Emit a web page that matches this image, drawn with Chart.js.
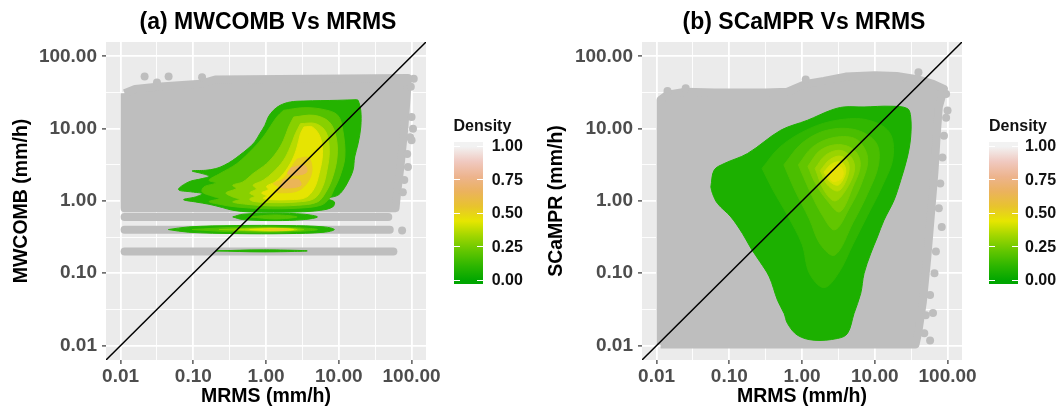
<!DOCTYPE html>
<html lang="en">
<head>
<meta charset="UTF-8" />
<title>MWCOMB / SCaMPR vs MRMS density</title>
<script src="https://cdn.jsdelivr.net/npm/chart.js"></script>
<style>
  body { margin: 0; background: #fff; font-family: 'Liberation Sans', Arial, Helvetica, sans-serif; }
  #page { position: relative; width: 1060px; height: 411px; overflow: hidden; background: #fff; }
  .panel { position: absolute; top: 0; width: 460px; height: 411px; }
  .title { position: absolute; top: 8px; font-size: 23px; line-height: 26px; font-weight: 700; color: #000;
           white-space: nowrap; transform: translateX(-50%); }
  .legend-title, .legend-label { position: absolute; font-weight: 700; font-size: 16px; line-height: 16px; color: #111; white-space: nowrap; }
  .bar { position: absolute; top: 141.5px; width: 29px; height: 142px; }
  .bar-tick { position: absolute; width: 6px; height: 1px; background: #fff; }
</style>
</head>
<body>
<div id="page">
  <div class="panel" style="left:0px"><canvas id="chartA"></canvas></div>
  <div class="panel" style="left:530px"><canvas id="chartB"></canvas></div>
  <div class="title" style="left:268px">(a) MWCOMB Vs MRMS</div>
  <div class="title" style="left:804px">(b) SCaMPR Vs MRMS</div>
</div>

<script>
// ---- shared scale / legend data ----
const axisMin = 0.0063;
const axisMax = 158;
const majorTicks = [0.01, 0.1, 1, 10, 100];
const majorTickLabels = ['0.01', '0.10', '1.00', '10.00', '100.00'];
const minorTicks = [0.0316, 0.316, 3.16, 31.6];
const identityLine = [axisMin, axisMax];

// terrain.colors(10) used for the density fill
const terrainColors = ['#00A600', '#2DB600', '#63C600', '#A0D600', '#E6E600',
                       '#E8C32E', '#EBB25E', '#EDB48E', '#F0C9C0', '#F2F2F2'];
const densityBreaks = [0, 0.25, 0.5, 0.75, 1];
const densityLabels = ['0.00', '0.25', '0.50', '0.75', '1.00'];

// all shapes below are [log10 x, log10 y] in mm/h

// ---- panel (a) MWCOMB vs MRMS ----
const aGreyBlock = [[-1.945, 1.49], [-1.8, 1.55], [-1.5, 1.58], [-1.2, 1.6], [-0.9, 1.62], [-0.7, 1.68],
  [1.95, 1.7], [1.93, 1.4], [1.9, 1.0], [1.85, 0.5], [1.8, 0.1], [1.78, -0.1], [-1.945, -0.1]];
const aBandYLog = [-0.222, -0.398, -0.699];
const aBandStartLog = [-1.945, -1.945, -1.945];
const aBandEndLog = [1.68, 1.7, 1.75];
const aOutliers = [[2.03, 1.69], [1.99, 1.58], [2.0, 1.16], [2.02, 1.0], [1.98, 0.88], [2.0, 0.84],
  [1.94, 0.65], [1.95, 0.47], [1.9, 0.29], [1.88, 0.12], [1.87, -0.41], [-1.67, 1.72], [-1.34, 1.72],
  [-0.88, 1.71], [-1.5, 1.64]];

const aMainL1 = [[1.242, 1.401], [0.986, 1.392], [0.52, 1.382], [0.333, 1.369], [0.194, 1.323], [0.101, 1.253],
  [0.031, 1.161], [-0.016, 1.046], [-0.086, 0.931], [-0.156, 0.816], [-0.249, 0.724], [-0.365, 0.631],
  [-0.458, 0.562], [-0.575, 0.493], [-0.691, 0.447], [-0.831, 0.424], [-1.017, 0.415], [-0.878, 0.378],
  [-0.784, 0.341], [-0.878, 0.309], [-1.064, 0.263], [-1.204, 0.157], [-1.017, 0.124], [-0.878, 0.101],
  [-0.971, 0.055], [-1.134, 0.018], [-0.971, -0.014], [-0.784, -0.046], [-0.598, -0.092], [-0.458, -0.129],
  [-0.225, -0.152], [0.427, -0.152], [0.753, -0.129], [0.916, -0.083], [0.939, -0.014], [0.846, 0.032],
  [0.986, 0.078], [1.055, 0.147], [1.125, 0.263], [1.195, 0.424], [1.218, 0.608], [1.265, 0.793],
  [1.302, 1.023], [1.302, 1.253], [1.265, 1.392]];
const aMainL2 = [[0.24, 1.253], [0.52, 1.29], [0.799, 1.263], [0.986, 1.184], [1.055, 0.977], [1.083, 0.608],
  [1.013, 0.332], [0.939, 0.171], [0.869, 0.032], [0.753, -0.06], [0.427, -0.101], [-0.039, -0.106],
  [-0.412, -0.083], [-0.645, -0.046], [-0.784, -0.009], [-0.645, 0.032], [-0.738, 0.065], [-0.878, 0.124],
  [-0.854, 0.194], [-0.691, 0.249], [-0.784, 0.286], [-0.635, 0.378], [-0.402, 0.516], [-0.179, 0.724],
  [-0.039, 0.885], [0.054, 1.023], [0.147, 1.161]];
const aMainL3 = [[0.38, 1.161], [0.66, 1.184], [0.869, 1.092], [0.962, 0.885], [0.976, 0.608], [0.916, 0.332],
  [0.823, 0.124], [0.706, -0.014], [0.427, -0.06], [0.054, -0.069], [-0.272, -0.046], [-0.458, -0.014],
  [-0.365, 0.023], [-0.458, 0.055], [-0.551, 0.111], [-0.412, 0.171], [-0.458, 0.217], [-0.319, 0.263],
  [-0.179, 0.378], [0.007, 0.516], [0.147, 0.677], [0.24, 0.839], [0.31, 1.023]];
const aMainL4 = [[0.473, 1.069], [0.683, 1.069], [0.823, 0.954], [0.869, 0.7], [0.837, 0.424], [0.776, 0.194],
  [0.66, 0.032], [0.427, -0.014], [0.054, -0.023], [-0.179, -0.005], [-0.225, 0.028], [-0.156, 0.065],
  [-0.225, 0.111], [-0.132, 0.166], [-0.179, 0.217], [-0.039, 0.286], [0.101, 0.401], [0.24, 0.562],
  [0.333, 0.747], [0.403, 0.931]];
const aMainL5 = [[0.52, 1.023], [0.636, 1.023], [0.743, 0.885], [0.776, 0.654], [0.729, 0.378], [0.66, 0.171],
  [0.543, 0.046], [0.333, 0.018], [0.054, 0.018], [-0.039, 0.037], [0.007, 0.069], [-0.062, 0.111],
  [0.031, 0.157], [0.007, 0.203], [0.124, 0.263], [0.24, 0.378], [0.357, 0.562], [0.427, 0.747], [0.473, 0.931]];
const aMainL6 = [[0.427, 0.58], [0.58, 0.6], [0.63, 0.47], [0.61, 0.332], [0.53, 0.207], [0.427, 0.137],
  [0.287, 0.114], [0.12, 0.128], [0.17, 0.194], [0.1, 0.24], [0.22, 0.296], [0.32, 0.411], [0.37, 0.503]];
const aMainL7a = [[0.34, 0.457], [0.53, 0.49], [0.56, 0.401], [0.44, 0.359], [0.3, 0.377]];
const aMainL7b = [[0.24, 0.287], [0.44, 0.296], [0.48, 0.22], [0.37, 0.184], [0.2, 0.193]];
const aBand06L1 = [[-0.458, -0.221], [-0.319, -0.184], [0.124, -0.171], [0.52, -0.184], [0.706, -0.221],
  [0.52, -0.258], [0.124, -0.272], [-0.319, -0.258]];
const aBand06L2 = [[-0.225, -0.221], [0.124, -0.194], [0.427, -0.221], [0.124, -0.249]];
const aBand04L1 = [[-1.343, -0.396], [-1.064, -0.359], [-0.412, -0.341], [0.287, -0.341], [0.799, -0.359],
  [0.939, -0.396], [0.799, -0.433], [0.287, -0.452], [-0.412, -0.452], [-1.064, -0.433]];
const aBand04L2 = [[-1.017, -0.396], [-0.412, -0.364], [0.287, -0.364], [0.706, -0.396], [0.287, -0.429], [-0.412, -0.429]];
const aBand04L3 = [[-0.645, -0.396], [0.054, -0.373], [0.52, -0.396], [0.054, -0.419]];
const aBand04L4 = [[-0.412, -0.396], [0.054, -0.378], [0.427, -0.396], [0.054, -0.415]];
const aBand04L5 = [[-0.225, -0.396], [0.147, -0.382], [0.38, -0.396], [0.147, -0.41]];
const aBand04L6 = [[-0.039, -0.396], [0.171, -0.387], [0.31, -0.396], [0.171, -0.406]];
const aBand02L1 = [[-0.691, -0.691], [-0.039, -0.677], [0.566, -0.691], [-0.039, -0.705]];
const aLevelDensity = [0.09, 0.19, 0.29, 0.37, 0.45, 0.53, 0.65];
const aRings = [
  [aMainL1, 0], [aBand06L1, 0], [aBand04L1, 0], [aBand02L1, 0],
  [aMainL2, 1], [aBand06L2, 1], [aBand04L2, 1],
  [aMainL3, 2], [aBand04L3, 2],
  [aMainL4, 3], [aBand04L4, 3],
  [aMainL5, 4], [aBand04L5, 4],
  [aMainL6, 5], [aBand04L6, 5],
  [aMainL7a, 6], [aMainL7b, 6]
];

// ---- panel (b) SCaMPR vs MRMS ----
const bGreyBlock = [[-1.945, -1.985], [-1.945, 1.4], [-1.85, 1.47], [-1.6, 1.51], [-1.2, 1.5], [-0.5, 1.5],
  [-0.2, 1.51], [0.05, 1.62], [0.3, 1.66], [0.6, 1.72], [1.0, 1.74], [1.3, 1.73], [1.6, 1.68], [1.8, 1.62],
  [1.95, 1.55], [1.88, 1.3], [1.85, 0.9], [1.82, 0.4], [1.77, -0.2], [1.72, -0.8], [1.66, -1.4], [1.6, -1.8],
  [1.56, -1.985]];
const bOutliers = [[2.0, 1.25], [1.98, 1.15], [1.95, 0.9], [1.93, 0.6], [1.9, 0.24], [1.88, -0.1],
  [1.92, -0.36], [1.84, -0.7], [1.82, -1.0], [1.76, -1.3], [1.7, -1.58], [1.8, -1.55], [1.68, -1.83],
  [1.76, -1.93], [1.98, 1.48], [1.6, 1.78], [0.05, 1.68], [-1.85, 1.52], [-1.6, 1.56]];

const bL1 = [[-1.254, 0.194], [-1.209, 0.425], [-1.071, 0.517], [-0.75, 0.656], [-0.293, 0.978], [0.074, 1.116],
  [0.394, 1.254], [0.577, 1.3], [0.852, 1.3], [1.218, 1.31], [1.448, 1.278], [1.493, 1.162], [1.493, 0.885],
  [1.448, 0.609], [1.356, 0.286], [1.264, 0.01], [1.126, -0.267], [1.036, -0.498], [0.944, -0.727],
  [0.852, -1.004], [0.806, -1.281], [0.714, -1.557], [0.624, -1.834], [0.486, -1.903], [0.165, -1.927],
  [-0.063, -1.858], [-0.2, -1.696], [-0.247, -1.557], [-0.338, -1.373], [-0.45, -1.051], [-0.58, -0.84],
  [-0.7, -0.66], [-0.82, -0.45], [-0.979, -0.221], [-1.162, -0.036], [-1.231, 0.102]];
const bL2 = [[-0.55, 0.45], [-0.3, 0.75], [0.1, 1.0], [0.5, 1.12], [0.9, 1.12], [1.2, 0.95], [1.25, 0.6],
  [1.1, 0.2], [0.9, -0.2], [0.7, -0.6], [0.5, -1.0], [0.3, -1.2], [0.1, -1.0], [0.0, -0.6], [-0.2, -0.2], [-0.4, 0.15]];
const bL3 = [[-0.25, 0.5], [0.0, 0.8], [0.35, 0.98], [0.75, 0.98], [1.02, 0.8], [1.05, 0.5], [0.9, 0.1],
  [0.7, -0.3], [0.45, -0.75], [0.25, -0.6], [0.1, -0.25], [-0.1, 0.15]];
const bL4 = [[-0.05, 0.5], [0.15, 0.75], [0.45, 0.88], [0.75, 0.85], [0.9, 0.6], [0.82, 0.25], [0.65, -0.1],
  [0.45, -0.4], [0.28, -0.2], [0.1, 0.15]];
const bL5 = [[0.08, 0.48], [0.25, 0.7], [0.5, 0.78], [0.72, 0.7], [0.8, 0.5], [0.7, 0.2], [0.52, -0.15],
  [0.35, 0.0], [0.18, 0.25]];
const bL6 = [[0.18, 0.45], [0.32, 0.63], [0.52, 0.7], [0.68, 0.6], [0.72, 0.42], [0.6, 0.15], [0.45, 0.0], [0.3, 0.15]];
const bL7 = [[0.25, 0.42], [0.38, 0.57], [0.53, 0.62], [0.64, 0.52], [0.62, 0.32], [0.5, 0.14], [0.35, 0.22]];
const bL8 = [[0.3, 0.4], [0.42, 0.52], [0.55, 0.53], [0.6, 0.4], [0.5, 0.22], [0.38, 0.27]];
const bL9 = [[0.35, 0.38], [0.45, 0.48], [0.55, 0.45], [0.55, 0.32], [0.42, 0.27]];
const bLevelDensity = [0.07, 0.12, 0.17, 0.22, 0.27, 0.32, 0.37, 0.42, 0.46];
const bRings = [[bL1, 0], [bL2, 1], [bL3, 2], [bL4, 3], [bL5, 4], [bL6, 5], [bL7, 6], [bL8, 7], [bL9, 8]];

// ---- helpers ----
const FONT = "'Liberation Sans', Arial, Helvetica, sans-serif";
const GREY_PT = '#BEBEBE';

function hexRgb(h) {
  return [parseInt(h.slice(1, 3), 16), parseInt(h.slice(3, 5), 16), parseInt(h.slice(5, 7), 16)];
}
function paletteAt(v) {
  const n = terrainColors.length - 1;
  const t = Math.min(Math.max(v, 0), 1) * n;
  const i = Math.min(Math.floor(t), n - 1);
  const f = t - i;
  const a = hexRgb(terrainColors[i]), b = hexRgb(terrainColors[i + 1]);
  const c = a.map((x, k) => Math.round(x + (b[k] - x) * f));
  return `rgb(${c[0]},${c[1]},${c[2]})`;
}
function toPts(ring, close) {
  const pts = ring.map(p => ({ x: Math.pow(10, p[0]), y: Math.pow(10, p[1]) }));
  if (close) pts.push({ x: pts[0].x, y: pts[0].y });
  return pts;
}
function majorIndex(v) {
  return majorTicks.findIndex(m => Math.abs(Math.log10(v) - Math.log10(m)) < 1e-6);
}
const allTicks = majorTicks.concat(minorTicks).sort((p, q) => p - q);

// grey panel background (ggplot theme_gray)
const panelBg = {
  id: 'panelBg',
  beforeDraw(chart) {
    const { ctx, chartArea: a } = chart;
    ctx.save();
    ctx.fillStyle = '#EBEBEB';
    ctx.fillRect(a.left, a.top, a.right - a.left, a.bottom - a.top);
    ctx.restore();
  }
};

function logAxis(title, isY, size, titlePad) {
  return {
    type: 'logarithmic',
    min: axisMin,
    max: axisMax,
    bounds: 'data',
    afterBuildTicks: s => { s.ticks = allTicks.map(v => ({ value: v })); },
    afterFit: s => {
      if (isY) { s.width = size; } else { s.height = size; }
      s.paddingLeft = 0; s.paddingRight = 0; s.paddingTop = 0; s.paddingBottom = 0;
    },
    ticks: {
      autoSkip: false, maxRotation: 0, minRotation: 0,
      padding: isY ? 5 : 1,
      color: '#4D4D4D',
      font: { family: FONT, size: 19, weight: 'bold' },
      callback: v => { const i = majorIndex(v); return i >= 0 ? majorTickLabels[i] : ''; }
    },
    grid: {
      color: '#FFFFFF',
      lineWidth: c => (c.tick && majorIndex(c.tick.value) >= 0) ? 1.8 : 0.9,
      tickColor: c => (c.tick && majorIndex(c.tick.value) >= 0) ? '#333333' : 'rgba(0,0,0,0)',
      tickLength: 4,
      tickWidth: 1.2
    },
    border: { display: false },
    title: {
      display: true, text: title, color: '#000',
      font: { family: FONT, size: 19.5, weight: 'bold' },
      padding: isY ? { top: titlePad, bottom: 0 } : { top: 0, bottom: titlePad }
    }
  };
}

function makePanel(canvasId, opt) {
  const datasets = [];
  datasets.push({
    data: toPts([[Math.log10(identityLine[0]), Math.log10(identityLine[0])],
                 [Math.log10(identityLine[1]), Math.log10(identityLine[1])]], false),
    borderColor: '#000', borderWidth: 1.5, pointRadius: 0, fill: false, order: 0, clip: 0
  });
  opt.rings.forEach(([ring, lvl], k) => {
    const col = paletteAt(opt.levels[lvl]);
    datasets.push({
      data: toPts(ring, true),
      fill: 'shape', backgroundColor: col, borderColor: col, borderWidth: 1,
      pointRadius: 0, tension: 0.35, order: 50 - lvl - k * 0.001, clip: 0
    });
  });
  datasets.push({
    data: toPts(opt.outliers, false), showLine: false,
    pointRadius: 4, pointBackgroundColor: GREY_PT, pointBorderWidth: 0, order: 98, clip: 0
  });
  (opt.bandY || []).forEach((y, i) => {
    datasets.push({
      data: toPts([[opt.bandStart[i], y], [opt.bandEnd[i], y]], false),
      borderColor: GREY_PT, borderWidth: 8, borderCapStyle: 'round', pointRadius: 0,
      fill: false, order: 99, clip: 0
    });
  });
  datasets.push({
    data: toPts(opt.block, true),
    fill: 'shape', backgroundColor: GREY_PT, borderColor: GREY_PT, borderWidth: 8,
    borderJoinStyle: 'round', pointRadius: 0, tension: 0, order: 100, clip: 0
  });

  new Chart(document.getElementById(canvasId), {
    type: 'line',
    data: { datasets },
    options: {
      responsive: true,
      maintainAspectRatio: false,
      animation: false,
      events: [],
      layout: { padding: { top: 42, right: opt.rightPad, bottom: 0, left: 0 } },
      plugins: { legend: { display: false }, tooltip: { enabled: false } },
      scales: {
        x: logAxis('MRMS (mm/h)', false, 51, 3),
        y: logAxis(opt.yTitle, true, opt.yWidth, opt.yTitlePad)
      }
    },
    plugins: [panelBg]
  });
}

function makeLegend(barLeft, labelLeft) {
  const page = document.getElementById('page');
  const t = document.createElement('div');
  t.className = 'legend-title';
  t.textContent = 'Density';
  t.style.left = barLeft + 'px';
  t.style.top = '118px';
  page.appendChild(t);

  const bar = document.createElement('div');
  bar.className = 'bar';
  bar.style.left = barLeft + 'px';
  const stops = terrainColors.map((c, i) => `${c} ${(3.3 + i / (terrainColors.length - 1) * 134).toFixed(1)}px`);
  bar.style.background = `linear-gradient(to top, ${stops.join(', ')})`;
  page.appendChild(bar);

  densityBreaks.forEach((v, i) => {
    const y = 280 - v * 134;
    [barLeft, barLeft + 23].forEach(x => {
      const tk = document.createElement('div');
      tk.className = 'bar-tick';
      tk.style.left = x + 'px';
      tk.style.top = (y - 0.5) + 'px';
      page.appendChild(tk);
    });
    const lab = document.createElement('div');
    lab.className = 'legend-label';
    lab.textContent = densityLabels[i];
    lab.style.left = labelLeft + 'px';
    lab.style.top = (y - 7.8) + 'px';
    page.appendChild(lab);
  });
}

makePanel('chartA', {
  yTitle: 'MWCOMB (mm/h)', yWidth: 106, yTitlePad: 10, rightPad: 34,
  block: aGreyBlock, bandY: aBandYLog, bandStart: aBandStartLog, bandEnd: aBandEndLog,
  outliers: aOutliers, rings: aRings, levels: aLevelDensity
});
makePanel('chartB', {
  yTitle: 'SCaMPR (mm/h)', yWidth: 112, yTitlePad: 14.5, rightPad: 28,
  block: bGreyBlock, outliers: bOutliers, rings: bRings, levels: bLevelDensity
});
makeLegend(453.5, 491.7);
makeLegend(989, 1025);
</script>
</body>
</html>
